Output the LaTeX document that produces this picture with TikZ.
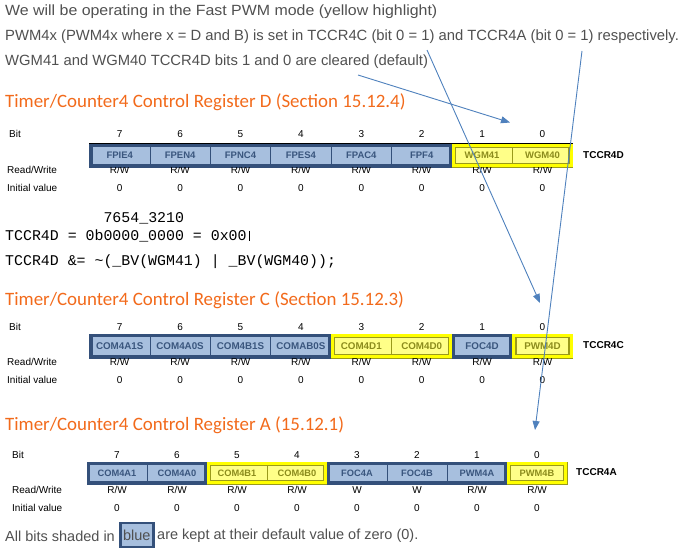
\documentclass[tikz,border=0pt]{standalone}
\usepackage{fontspec}
\setmainfont{Liberation Sans}
\setmonofont{Liberation Mono}
\newfontfamily\headfont{Carlito}
\usetikzlibrary{arrows.meta}
\definecolor{txtgray}{HTML}{505050}
\definecolor{headorange}{HTML}{F26A1B}
\definecolor{navyframe}{HTML}{34507A}
\definecolor{cellblue}{HTML}{A7BFDE}
\definecolor{bluetext}{HTML}{3A567E}
\definecolor{cellyellow}{HTML}{FFFF88}
\definecolor{frameyellow}{HTML}{FFFF00}
\definecolor{olivebd}{HTML}{9A9A1A}
\definecolor{olivetext}{HTML}{8C8C1C}
\definecolor{arrowblue}{HTML}{4F81BD}
\begin{document}
\begin{tikzpicture}[x=1pt,y=-1pt,
  lbl/.style={font=\fontsize{10}{12}\selectfont, text=black, inner sep=0},
  side/.style={lbl, anchor=west},
  regname/.style={font=\fontsize{10}{12}\selectfont\bfseries, anchor=west, inner sep=0},
  topline/.style={font=\fontsize{14.8}{17}\selectfont, text=txtgray, anchor=west, inner sep=0},
  noteline/.style={font=\fontsize{14.5}{17}\selectfont, text=txtgray, anchor=west, inner sep=0},
  heading/.style={font=\headfont\fontsize{18.9}{22}\selectfont, text=headorange, anchor=west, inner sep=0},
  codeline/.style={font=\ttfamily\fontsize{14.9}{17}\selectfont, text=black, anchor=west, inner sep=0},
  cellb/.style={draw=navyframe, line width=0.8pt, fill=cellblue, text=bluetext, inner sep=0},
  celly/.style={draw=olivebd, line width=0.8pt, fill=cellyellow, text=olivetext, inner sep=0},
  bframe/.style={draw=navyframe, line width=3.5pt},
  yframe/.style={draw=frameyellow, line width=3.5pt},
  yinner/.style={draw=olivebd, line width=1.2pt},
  bluebox/.style={draw=navyframe, line width=2.5pt, fill=cellblue, text=txtgray, inner sep=0,
    minimum width=33pt, minimum height=24pt, font=\fontsize{14.5}{17}\selectfont},
  conn/.style={draw=arrowblue, line width=0.9pt, -{Triangle[length=9pt,width=7pt]}},
  cursorline/.style={draw=black, line width=0.6pt}
]
\useasboundingbox (0,0) rectangle (686,554);

% top text
\node[topline] (t1) at (5,12) {\scalebox{1.075}[1]{We will be operating in the Fast PWM mode (yellow highlight)}};
\node[topline] (t2) at (5,37) {PWM4x (PWM4x where x = D and B) is set in TCCR4C (bit 0 = 1) and TCCR4A (bit 0 = 1) respectively.};
\node[topline] (t3) at (5,62) {WGM41 and WGM40 TCCR4D bits 1 and 0 are cleared (default)};

% ---------- Register D ----------
\node[heading] (hD) at (5,102) {Timer/Counter4 Control Register D (Section 15.12.4)};
\node[side] (Dbitl) at (9,134) {Bit};
\node[side] (Drwl) at (7,170) {Read/Write};
\node[side] (Divl) at (7,188) {Initial value};
\foreach \b/\t/\k in {7/FPIE4/b,6/FPEN4/b,5/FPNC4/b,4/FPES4/b,3/FPAC4/b,2/FPF4/b,1/WGM41/y,0/WGM40/y}{
  \pgfmathsetmacro{\xc}{119.7+60.4*(7-\b)}
  \node[cell\k, minimum width=60.4pt, minimum height=23pt, font=\fontsize{9.5}{10}\selectfont\bfseries] (D\b) at (\xc,155.5) {\t};
  \node[lbl] (Dbit\b) at (\xc,134) {\b};
  \node[lbl] (Drw\b) at (\xc,170) {R/W};
  \node[lbl] (Div\b) at (\xc,188) {0};
}
\draw[bframe] ([shift={(1.75,1.75)}]D7.north west) rectangle ([shift={(-1.75,-1.75)}]D2.south east);
\draw[yframe] ([shift={(1.75,1.75)}]D1.north west) rectangle ([shift={(-1.75,-1.75)}]D0.south east);
\draw[yinner] ([shift={(4.1,4.1)}]D1.north west) rectangle ([shift={(-4.1,-4.1)}]D0.south east);
\draw[black, line width=0.8pt] (D7.north west) -- (D0.north east);
\node[regname] (Dname) at (583,155) {TCCR4D};

% code
\node[codeline] (c1) at (5,218) {\phantom{TCCR4D = 0b}7654\_3210};
\node[codeline] (c2) at (5,236) {TCCR4D = 0b0000\_0000 = 0x00};
\draw[cursorline] ([xshift=2pt,yshift=-1pt]c2.north east) -- ([xshift=2pt,yshift=1pt]c2.south east);
\node[codeline] (c3) at (5,262) {TCCR4D \&= \textasciitilde(\_BV(WGM41) | \_BV(WGM40));};

% ---------- Register C ----------
\node[heading] (hC) at (5,300) {Timer/Counter4 Control Register C (Section 15.12.3)};
\node[side] (Cbitl) at (9,327) {Bit};
\node[side] (Crwl) at (7,362) {Read/Write};
\node[side] (Civl) at (7,380) {Initial value};
\foreach \b/\t/\k in {7/COM4A1S/b,6/COM4A0S/b,5/COM4B1S/b,4/COMAB0S/b,3/COM4D1/y,2/COM4D0/y,1/FOC4D/b,0/PWM4D/y}{
  \pgfmathsetmacro{\xc}{119.7+60.4*(7-\b)}
  \node[cell\k, minimum width=60.4pt, minimum height=24pt, font=\fontsize{9.8}{11}\selectfont\bfseries] (C\b) at (\xc,346) {\t};
  \node[lbl] (Cbit\b) at (\xc,327) {\b};
  \node[lbl] (Crw\b) at (\xc,362) {R/W};
  \node[lbl] (Civ\b) at (\xc,380) {0};
}
\draw[bframe] ([shift={(1.75,1.75)}]C7.north west) rectangle ([shift={(-1.75,-1.75)}]C4.south east);
\draw[yframe] ([shift={(1.75,1.75)}]C3.north west) rectangle ([shift={(-1.75,-1.75)}]C2.south east);
\draw[yinner] ([shift={(4.1,4.1)}]C3.north west) rectangle ([shift={(-4.1,-4.1)}]C2.south east);
\draw[bframe] ([shift={(1.75,1.75)}]C1.north west) rectangle ([shift={(-1.75,-1.75)}]C1.south east);
\draw[yframe] ([shift={(1.75,1.75)}]C0.north west) rectangle ([shift={(-1.75,-1.75)}]C0.south east);
\draw[yinner] ([shift={(4.1,4.1)}]C0.north west) rectangle ([shift={(-4.1,-4.1)}]C0.south east);
\node[regname] (Cname) at (583,345) {TCCR4C};

% ---------- Register A ----------
\node[heading] (hA) at (5,425) {Timer/Counter4 Control Register A (15.12.1)};
\node[side] (Abitl) at (12,455) {Bit};
\node[side] (Arwl) at (12,490) {Read/Write};
\node[side] (Aivl) at (12,508) {Initial value};
\foreach \b/\t/\k/\r in {7/COM4A1/b/R\slash W,6/COM4A0/b/R\slash W,5/COM4B1/y/R\slash W,4/COM4B0/y/R\slash W,3/FOC4A/b/W,2/FOC4B/b/W,1/PWM4A/b/R\slash W,0/PWM4B/y/R\slash W}{
  \pgfmathsetmacro{\xc}{117+60*(7-\b)}
  \node[cell\k, minimum width=60pt, minimum height=22pt, font=\fontsize{9.3}{10}\selectfont\bfseries] (A\b) at (\xc,473) {\t};
  \node[lbl] (Abit\b) at (\xc,455) {\b};
  \node[lbl] (Arw\b) at (\xc,490) {\r};
  \node[lbl] (Aiv\b) at (\xc,508) {0};
}
\draw[bframe] ([shift={(1.75,1.75)}]A7.north west) rectangle ([shift={(-1.75,-1.75)}]A6.south east);
\draw[yframe] ([shift={(1.75,1.75)}]A5.north west) rectangle ([shift={(-1.75,-1.75)}]A4.south east);
\draw[yinner] ([shift={(4.1,4.1)}]A5.north west) rectangle ([shift={(-4.1,-4.1)}]A4.south east);
\draw[bframe] ([shift={(1.75,1.75)}]A3.north west) rectangle ([shift={(-1.75,-1.75)}]A1.south east);
\draw[yframe] ([shift={(1.75,1.75)}]A0.north west) rectangle ([shift={(-1.75,-1.75)}]A0.south east);
\draw[yinner] ([shift={(4.1,4.1)}]A0.north west) rectangle ([shift={(-4.1,-4.1)}]A0.south east);
\node[regname] (Aname) at (576,472) {TCCR4A};

% bottom note
\node[noteline] (b1) at (5,536) {All bits shaded in};
\node[bluebox, anchor=west] (bb) at (119,535) {blue};
\node[noteline] (b2) at (157,536) {are kept at their default value of zero (0).};

% arrows
\coordinate (a1s) at (358,75);
\coordinate (a1e) at (510,122.5);
\coordinate (a2s) at (427,50);
\coordinate (a2e) at (540,303);
\coordinate (a3s) at (582,51);
\coordinate (a3e) at (535,430);
\draw[conn] (a1s) -- (a1e);
\draw[conn] (a2s) -- (a2e);
\draw[conn] (a3s) -- (a3e);
\end{tikzpicture}
\end{document}
